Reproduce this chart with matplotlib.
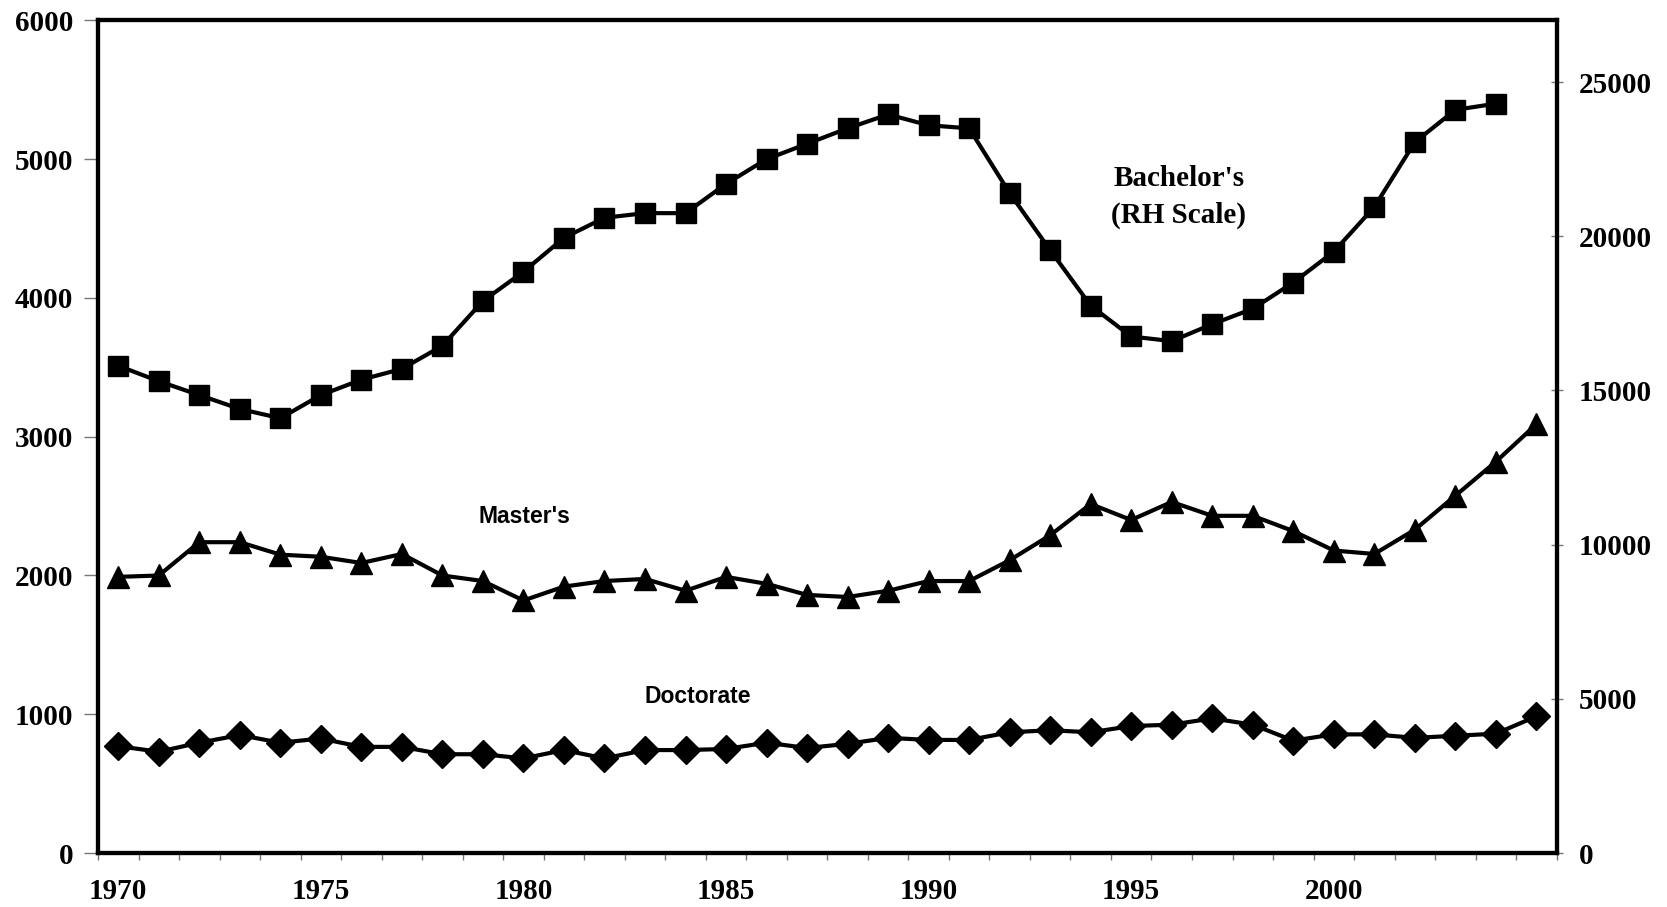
import matplotlib
matplotlib.use("Agg")
import matplotlib.pyplot as plt
import numpy as np

years = list(range(1970, 2006))

bachelors = [15800, 15300, 14850, 14400, 14100, 14850, 15350, 15700, 16450, 17900,
             18850, 19950, 20600, 20750, 20750, 21700, 22500, 23000, 23500, 23950,
             23600, 23500, 21400, 19550, 17750, 16750, 16600, 17150, 17650, 18500,
             19500, 20950, 23050, 24100, 24300]

masters = [1990, 2000, 2240, 2240, 2150, 2135, 2090, 2155, 2000, 1960,
           1820, 1920, 1960, 1975, 1890, 1990, 1940, 1860, 1845, 1890,
           1960, 1960, 2110, 2290, 2515, 2400, 2530, 2430, 2430, 2320,
           2180, 2155, 2330, 2575, 2820, 3090]

doctorate = [770, 730, 795, 850, 795, 825, 765, 765, 712, 712,
             682, 742, 682, 742, 742, 750, 795, 757, 787, 830,
             815, 815, 870, 885, 870, 915, 925, 970, 925, 810,
             855, 855, 830, 845, 860, 985]

tick_years = [1970, 1975, 1980, 1985, 1990, 1995, 2000]

serif = "Liberation Serif"
sans = "Liberation Sans"

fig = plt.figure(figsize=(16.67, 9.07), dpi=100)
ax = fig.add_axes([0.0588, 0.0595, 0.875, 0.918])
ax2 = ax.twinx()

x = np.arange(len(years))
xb = np.arange(len(bachelors))

ax.plot(x, masters, color="black", lw=3, marker="^", ms=16, clip_on=False, zorder=3)
ax.plot(x, doctorate, color="black", lw=3, marker="D", ms=14, clip_on=False, zorder=3)
ax2.plot(xb, bachelors, color="black", lw=3, marker="s", ms=15, clip_on=False, zorder=3)

ax.set_xlim(-0.5, len(years) - 0.5)
ax.set_ylim(0, 6000)
ax2.set_ylim(0, 27000)

ax.set_yticks(range(0, 6001, 1000))
ax2.set_yticks(range(0, 25001, 5000))

ax.set_xticks([years.index(y) for y in tick_years])
ax.set_xticklabels([str(y) for y in tick_years])
ax.set_xticks(np.arange(-0.5, len(years), 1), minor=True)

for a in (ax, ax2):
    for s in a.spines.values():
        s.set_linewidth(3)
        s.set_color("black")

ax.tick_params(axis="x", which="major", length=0, pad=18)
ax.tick_params(axis="x", which="minor", length=5, width=1, color="#777777", direction="out")
ax.tick_params(axis="y", length=10, width=1, color="#777777", direction="out", pad=8)
ax2.tick_params(axis="y", length=8, width=1, color="#777777", direction="inout", pad=12)

for lab in ax.get_xticklabels() + ax.get_yticklabels() + ax2.get_yticklabels():
    lab.set_fontfamily(serif)
    lab.set_fontweight("bold")
    lab.set_fontsize(21)

ax.text(0.741, 0.788, "Bachelor's\n(RH Scale)", transform=ax.transAxes, ha="center", va="center",
        fontfamily=serif, fontweight="bold", fontsize=21, linespacing=1.45)
ax.text(0.292, 0.404, "Master's", transform=ax.transAxes, ha="center", va="center",
        fontfamily=sans, fontweight="bold", fontsize=16.5)
ax.text(0.411, 0.188, "Doctorate", transform=ax.transAxes, ha="center", va="center",
        fontfamily=sans, fontweight="bold", fontsize=16.5)

fig.savefig("out.png", dpi=100, facecolor="white")
